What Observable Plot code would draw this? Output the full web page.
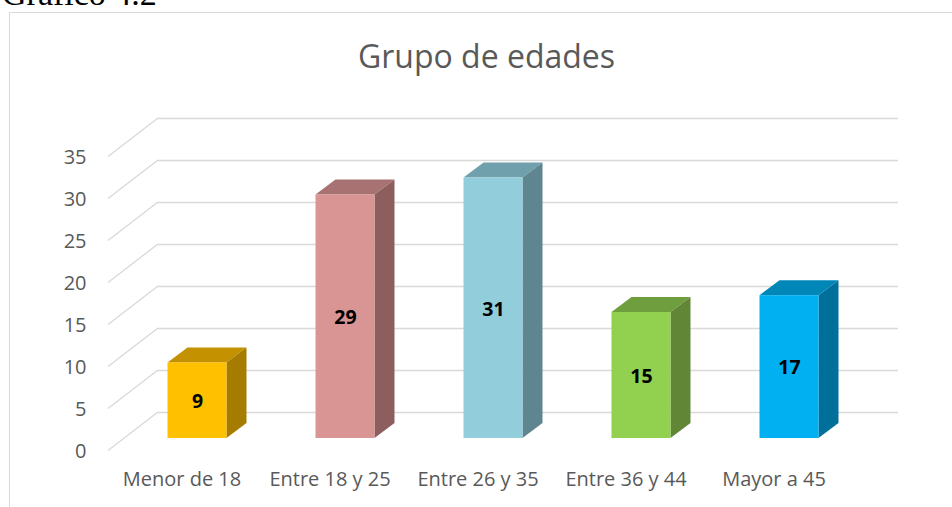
<!DOCTYPE html>
<html>
<head>
<meta charset="utf-8">
<script src="https://cdn.jsdelivr.net/npm/d3@7"></script>
<script src="https://cdn.jsdelivr.net/npm/@observablehq/plot@0.6"></script>
<style>
  html, body { margin: 0; padding: 0; background: #fff; }
  #wrap { position: relative; width: 952px; height: 507px; overflow: hidden; }
  #fig { position: absolute; left: 2px; top: -23.5px; font-family: "Liberation Serif", "Times New Roman", serif; font-size: 34px; line-height: 34px; color: #000; white-space: nowrap; }
  #box { position: absolute; left: 9px; top: 12px; width: 1000px; height: 600px; border-left: 1.5px solid #D9D9D9; border-top: 1.5px solid #D9D9D9; box-sizing: border-box; }
  #title { position: absolute; left: 0; width: 973px; top: 40px; text-align: center; font-family: "Open Sans", sans-serif; font-size: 32px; line-height: 32px; color: #595959; white-space: nowrap; }
  #chart { position: absolute; left: 0; top: 0; }
</style>
</head>
<body>
<div id="wrap">
  <div id="fig">Gráfico 4.2</div>
  <div id="box"></div>
  <div id="title">Grupo de edades</div>
  <div id="chart"></div>
</div>
<script>
// ---- data ----
const categories = ["Menor de 18", "Entre 18 y 25", "Entre 26 y 35", "Entre 36 y 44", "Mayor a 45"];
const values = [9, 29, 31, 15, 17];
const frontColors = ["#FFC000", "#D99594", "#92CDDC", "#92D050", "#00B0F0"];
const topColors = ["#C49200", "#A87272", "#70A0AC", "#6E9E3D", "#0087B8"];
const sideColors = ["#A67C00", "#8C5E5D", "#5E8590", "#608636", "#00709A"];
const yTicks = [0, 5, 10, 15, 20, 25, 30, 35];

const data = categories.map((c, i) => ({cat: c, v: values[i], front: frontColors[i]}));

// ---- 3D geometry (pixels) ----
const BAR_DX = -34.5, BAR_DY = 26;   // bar front face offset from back wall
const DEPTH_X = 20, DEPTH_Y = 15;    // bar depth
const FLOOR_DX = -50, FLOOR_DY = 38.5; // front edge of the floor
const GRID = "#D9D9D9";

function diagonals(index, scales, vals, dims) {
  const y = scales.y;
  const g = d3.create("svg:g").attr("stroke", GRID).attr("stroke-width", 1.3).attr("fill", "none");
  const x0 = dims.marginLeft;
  for (const t of yTicks) {
    g.append("line")
      .attr("x1", x0 + FLOOR_DX).attr("y1", y(t) + FLOOR_DY)
      .attr("x2", x0).attr("y2", y(t));
  }
  return g.node();
}

function faces(index, scales) {
  const {x, y} = scales;
  const bw = typeof x.bandwidth === "function" ? x.bandwidth() : x.bandwidth;
  const g = d3.create("svg:g");
  categories.forEach((c, i) => {
    const xl = x(c) + BAR_DX, xr = xl + bw;
    const yt = y(values[i]) + BAR_DY, yb = y(0) + BAR_DY;
    g.append("path")
      .attr("d", `M${xl},${yt}L${xr},${yt}L${xr + DEPTH_X},${yt - DEPTH_Y}L${xl + DEPTH_X},${yt - DEPTH_Y}Z`)
      .attr("fill", topColors[i]);
    g.append("path")
      .attr("d", `M${xr},${yt}L${xr + DEPTH_X},${yt - DEPTH_Y}L${xr + DEPTH_X},${yb - DEPTH_Y}L${xr},${yb}Z`)
      .attr("fill", sideColors[i]);
  });
  return g.node();
}

const chart = Plot.plot({
  width: 952,
  height: 507,
  marginLeft: 158,
  marginRight: 54,
  marginTop: 118,
  marginBottom: 95,
  style: {background: "transparent", fontFamily: "'Open Sans', sans-serif", overflow: "visible"},
  x: {type: "band", domain: categories, paddingInner: 0.6, paddingOuter: 0.3, axis: null},
  y: {domain: [0, 35], axis: null},
  color: {type: "identity"},
  marks: [
    Plot.ruleY(yTicks, {stroke: GRID, strokeWidth: 1.3}),
    diagonals,
    Plot.text(yTicks, {y: d => d, text: d => String(d), frameAnchor: "left", textAnchor: "end", dx: -72, dy: FLOOR_DY + 1, fontSize: 20, fill: "#595959"}),
    faces,
    Plot.barY(data, {x: "cat", y: "v", fill: "front", dx: BAR_DX, dy: BAR_DY}),
    Plot.text(data, {x: "cat", y: d => d.v / 2, text: d => String(d.v), dx: BAR_DX, dy: BAR_DY + 1, fontSize: 19.5, fontWeight: "bold", fill: "#000"}),
    Plot.text(categories, {x: d => d, text: d => d, frameAnchor: "bottom", dx: FLOOR_DX, dy: 73, fontSize: 20, fill: "#595959"})
  ]
});
document.getElementById("chart").appendChild(chart);
</script>
</body>
</html>
